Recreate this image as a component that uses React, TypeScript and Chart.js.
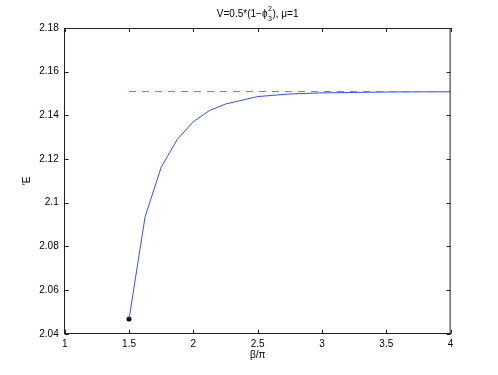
import React, { useEffect, useRef } from 'react';
import { Chart, registerables } from 'chart.js';

Chart.register(...registerables);

// ---- data ----
const betaOverPi = [1.5, 1.625, 1.75, 1.875, 2, 2.125, 2.25, 2.5, 2.75, 3, 3.5, 4];
const energy = [2.0467, 2.0936, 2.1162, 2.129, 2.1371, 2.1422, 2.1452, 2.1486, 2.1498, 2.1503, 2.1507, 2.1508];
const asymptoteX = [1.5, 4];
const asymptoteY = [2.1509, 2.1509];
const startPointX = [1.5];
const startPointY = [2.0467];
const xTickValues = [1, 1.5, 2, 2.5, 3, 3.5, 4];
const yTickValues = [2.04, 2.06, 2.08, 2.1, 2.12, 2.14, 2.16, 2.18];
const titleMain = 'V=0.5*(1\u2212\u03d5';
const titleSup = '2';
const titleSub = '3';
const titleEnd = '), \u03bc=1';
const xLabel = '\u03b2/\u03c0';
const yLabel = '\u2032E';

const FONT = '"Liberation Sans", Arial, Helvetica, sans-serif';

const overlayPlugin = {
  id: 'matlabOverlay',
  afterDraw(chart: any) {
    const { ctx, chartArea } = chart;
    const xs = chart.scales.x;
    const ys = chart.scales.y;
    const { left, right, top, bottom } = chartArea;
    ctx.save();
    // box top/right
    ctx.strokeStyle = '#222';
    ctx.lineWidth = 1;
    ctx.beginPath();
    ctx.moveTo(left, top + 0.5);
    ctx.lineTo(right, top + 0.5);
    ctx.moveTo(right - 0.5, top);
    ctx.lineTo(right - 0.5, bottom);
    ctx.stroke();
    // inward ticks
    const tl = 4;
    ctx.beginPath();
    xTickValues.forEach((v) => {
      const px = Math.round(xs.getPixelForValue(v)) + 0.5;
      ctx.moveTo(px, bottom);
      ctx.lineTo(px, bottom - tl);
      ctx.moveTo(px, top);
      ctx.lineTo(px, top + tl);
    });
    yTickValues.forEach((v) => {
      const py = Math.round(ys.getPixelForValue(v)) + 0.5;
      ctx.moveTo(left, py);
      ctx.lineTo(left + tl, py);
      ctx.moveTo(right, py);
      ctx.lineTo(right - tl, py);
    });
    ctx.stroke();

    // title
    ctx.fillStyle = '#000';
    ctx.textBaseline = 'alphabetic';
    ctx.textAlign = 'left';
    const big = '10px ' + FONT;
    const small = '7px ' + FONT;
    ctx.font = big;
    const w1 = ctx.measureText(titleMain).width;
    const w3 = ctx.measureText(titleEnd).width;
    ctx.font = small;
    const w2 = Math.max(ctx.measureText(titleSup).width, ctx.measureText(titleSub).width) + 1;
    const total = w1 + w2 + w3;
    const cx = (left + right) / 2;
    let x0 = cx - total / 2;
    const base = 17;
    ctx.font = big;
    ctx.fillText(titleMain, x0, base);
    ctx.font = small;
    ctx.fillText(titleSup, x0 + w1 + 0.5, base - 6);
    ctx.fillText(titleSub, x0 + w1 + 0.5, base + 4);
    ctx.font = big;
    ctx.fillText(titleEnd, x0 + w1 + w2, base);

    // x label
    ctx.textAlign = 'center';
    ctx.textBaseline = 'middle';
    ctx.fillText(xLabel, cx, 355);

    // y label
    ctx.translate(27, (top + bottom) / 2);
    ctx.rotate(-Math.PI / 2);
    ctx.fillText(yLabel, 0, 0);
    ctx.restore();
  },
};

export default function App() {
  const ref = useRef<HTMLCanvasElement | null>(null);
  useEffect(() => {
    if (!ref.current) return;
    const chart = new Chart(ref.current, {
      type: 'scatter',
      data: {
        datasets: [
          {
            label: 'asymptote',
            data: asymptoteX.map((x, i) => ({ x, y: asymptoteY[i] })),
            showLine: true,
            borderColor: 'rgb(80,170,70)',
            borderWidth: 1,
            borderDash: [7, 6],
            pointRadius: 0,
          },
          {
            label: 'E',
            data: betaOverPi.map((x, i) => ({ x, y: energy[i] })),
            showLine: true,
            borderColor: 'rgb(50,80,255)',
            borderWidth: 1,
            pointRadius: 0,
          },
          {
            label: 'start',
            data: startPointX.map((x, i) => ({ x, y: startPointY[i] })),
            showLine: false,
            pointRadius: 2.5,
            pointBackgroundColor: '#000',
            pointBorderColor: '#000',
            pointBorderWidth: 0,
          },
        ],
      },
      options: {
        animation: false,
        responsive: true,
        maintainAspectRatio: false,
        layout: { padding: { top: 28, right: 47.4, left: 0, bottom: 0 } },
        plugins: { legend: { display: false }, title: { display: false }, tooltip: { enabled: false } },
        scales: {
          x: {
            type: 'linear',
            min: 1,
            max: 4,
            afterBuildTicks: (s: any) => {
              s.ticks = xTickValues.map((v) => ({ value: v }));
            },
            afterFit: (s: any) => {
              s.height = 41.25;
            },
            grid: { display: false, drawTicks: false },
            border: { display: true, color: '#222', width: 1 },
            ticks: {
              padding: 4,
              color: '#000',
              font: { family: FONT, size: 10 },
              maxRotation: 0,
              callback: (v: any) => String(Number(Number(v).toFixed(2))),
            },
          },
          y: {
            type: 'linear',
            min: 2.04,
            max: 2.18,
            afterBuildTicks: (s: any) => {
              s.ticks = yTickValues.map((v) => ({ value: v }));
            },
            afterFit: (s: any) => {
              s.width = 64.7;
            },
            grid: { display: false, drawTicks: false },
            border: { display: true, color: '#222', width: 1 },
            ticks: {
              padding: 6,
              color: '#000',
              font: { family: FONT, size: 10 },
              callback: (v: any) => String(Number(Number(v).toFixed(2))),
            },
          },
        },
      },
      plugins: [overlayPlugin],
    });
    return () => chart.destroy();
  }, []);
  return (
    <div style={{ position: 'fixed', left: 0, top: 0, width: 498, height: 375, background: '#fff' }}>
      <canvas ref={ref} />
    </div>
  );
}
